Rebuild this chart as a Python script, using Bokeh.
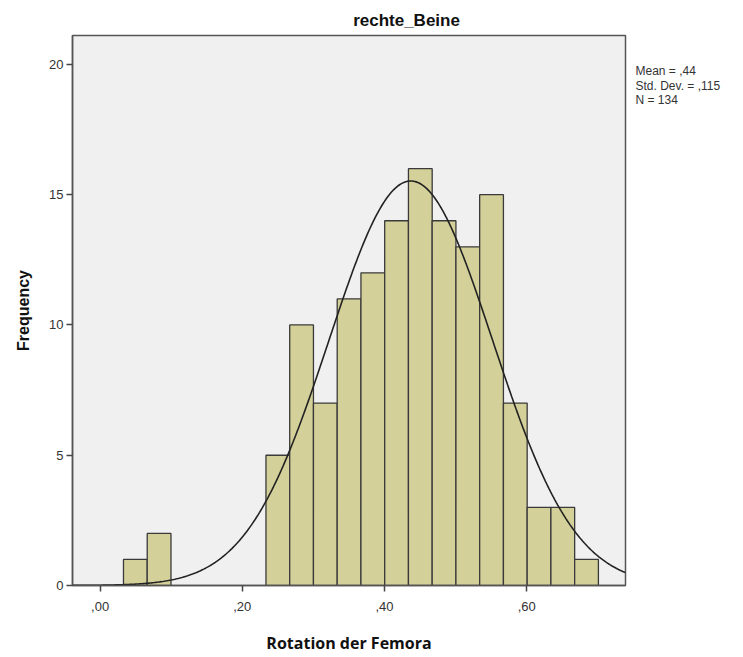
import numpy as np
from bokeh.plotting import figure
from bokeh.models import (Range1d, FixedTicker, ColumnDataSource, LinearAxis,
                          CustomJSTickFormatter)
from bokeh.embed import file_html
from bokeh.resources import INLINE

# ---- data ----
title_text = "rechte_Beine"
x_label = "Rotation der Femora"
y_label = "Frequency"
counts = [1, 2, 0, 0, 0, 0, 5, 10, 7, 11, 12, 14, 16, 14, 13, 15, 7, 3, 3, 1]
bin_start = 0.0329
bin_width = 0.0334
mean_val = 0.437
sd_val = 0.115
n_val = 134
x_ticks = [0.0, 0.2, 0.4, 0.6]
x_tick_labels = [",00", ",20", ",40", ",60"]
y_ticks = [0, 5, 10, 15, 20]
stats_lines = ["Mean = ,44", "Std. Dev. = ,115", "N = 134"]

# ---- build ----
W, H = 743, 657
X0, X1, Y0, Y1 = -0.0388, 0.739, 0, 21.11
p = figure(width=W, height=H, output_backend="svg", toolbar_location=None,
           x_range=Range1d(X0, X1), y_range=Range1d(Y0, Y1))
p.min_border_left = 72
p.min_border_right = 118
p.min_border_top = 35
p.min_border_bottom = 72
p.background_fill_color = "#F0F0F0"
p.border_fill_color = "white"
p.outline_line_color = "#555555"
p.outline_line_width = 1.5
p.xgrid.visible = False
p.ygrid.visible = False

left = [bin_start + i * bin_width for i in range(len(counts))]
right = [l + bin_width for l in left]
src = ColumnDataSource(dict(left=[l for l, c in zip(left, counts) if c > 0],
                            right=[r for r, c in zip(right, counts) if c > 0],
                            top=[c for c in counts if c > 0]))
p.quad(left="left", right="right", top="top", bottom=0, source=src,
       fill_color="#D4D09A", line_color="#3a3a3a", line_width=1.3)

xs = np.linspace(X0, X1, 400)
ys = n_val * bin_width / (sd_val * np.sqrt(2 * np.pi)) * np.exp(-0.5 * ((xs - mean_val) / sd_val) ** 2)
p.line(xs, ys, line_color="#222222", line_width=1.6)

for ax in (p.xaxis[0], p.yaxis[0]):
    ax.axis_line_color = "#555555"
    ax.axis_line_width = 1.5
    ax.major_tick_line_color = "#444444"
    ax.major_tick_line_width = 1.5
    ax.major_tick_out = 6
    ax.major_tick_in = 0
    ax.minor_tick_line_color = None
    ax.major_label_text_font = "Liberation Sans"
    ax.major_label_text_font_size = "13px"
    ax.major_label_text_color = "#333333"

p.xaxis.ticker = FixedTicker(ticks=x_ticks)
p.xaxis.major_label_overrides = {t: l for t, l in zip(x_ticks, x_tick_labels)}
p.yaxis.ticker = FixedTicker(ticks=y_ticks)
p.xaxis.major_label_standoff = 10
p.yaxis.major_label_standoff = 3

p.xaxis.axis_label = x_label
p.xaxis.axis_label_text_font = "Open Sans"
p.xaxis.axis_label_text_font_style = "bold"
p.xaxis.axis_label_text_font_size = "16px"
p.xaxis.axis_label_text_color = "#111111"
p.xaxis.axis_label_standoff = 18

p.yaxis.axis_label = y_label
p.yaxis.axis_label_text_font = "Liberation Sans"
p.yaxis.axis_label_text_font_style = "bold"
p.yaxis.axis_label_text_font_size = "16px"
p.yaxis.axis_label_text_color = "#111111"
p.yaxis.axis_label_standoff = 14

# title: an unadorned axis above the frame carrying one label
title_x = 0.431
title_axis = LinearAxis(ticker=FixedTicker(ticks=[title_x]),
                        formatter=CustomJSTickFormatter(args=dict(t=title_text), code="return t"),
                        axis_line_color=None, major_tick_line_color=None, minor_tick_line_color=None,
                        major_tick_out=0, major_tick_in=0,
                        major_label_standoff=6, major_label_text_font="Liberation Sans",
                        major_label_text_font_style="bold", major_label_text_font_size="17px",
                        major_label_text_color="#111111")
p.add_layout(title_axis, "above")

# statistics text: an unadorned axis on the right with three labels
stats_y = [19.73, 19.17, 18.62]
stats_axis = LinearAxis(ticker=FixedTicker(ticks=sorted(stats_y)),
                        formatter=CustomJSTickFormatter(args=dict(lines=stats_lines[::-1]),
                                                        code="return lines[index]"),
                        axis_line_color=None, major_tick_line_color=None, minor_tick_line_color=None,
                        major_tick_out=0, major_tick_in=0,
                        major_label_standoff=10, major_label_text_font="Liberation Sans",
                        major_label_text_font_size="12px", major_label_text_color="#333333")
p.add_layout(stats_axis, "right")

open("out.html", "w").write(file_html(p, INLINE))
